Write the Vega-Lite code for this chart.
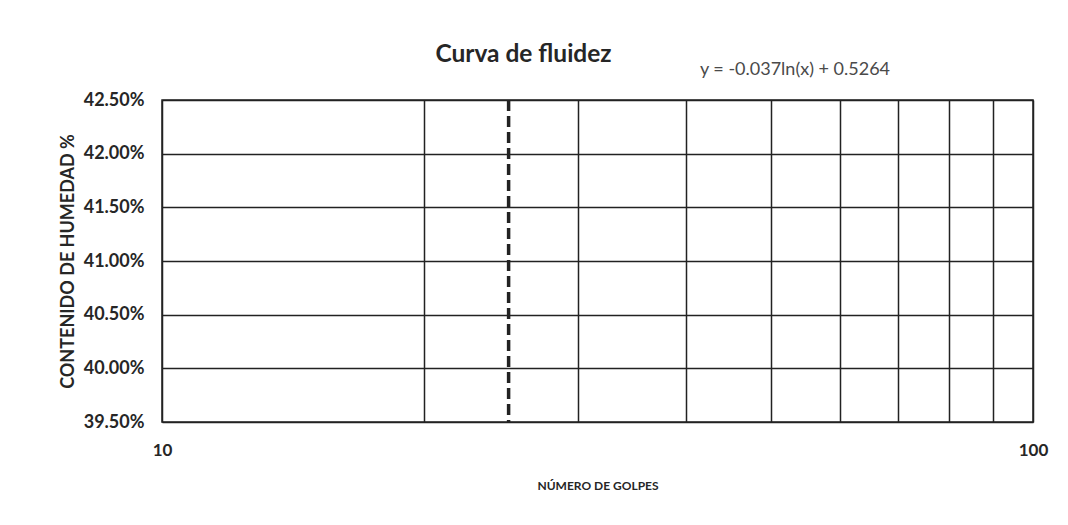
{
  "$schema": "https://vega.github.io/schema/vega-lite/v6.json",
  "width": 871,
  "height": 322,
  "autosize": {"type": "none"},
  "padding": {"left": 162, "top": 100, "right": 35, "bottom": 103},
  "background": "white",
  "config": {
    "font": "Lato",
    "view": {"stroke": "#222", "strokeWidth": 1.5}
  },
  "title": {
    "text": "Curva de fluidez",
    "font": "Lato",
    "fontSize": 24.5,
    "fontWeight": "bold",
    "color": "#262626",
    "anchor": "middle",
    "frame": "group",
    "dx": -74,
    "offset": -7
  },
  "datasets": {
    "limite": [{"golpes": 25}],
    "ecuacion": [{"texto": "y = -0.037ln(x) + 0.5264"}]
  },
  "layer": [
    {
      "data": {"name": "limite"},
      "mark": {"type": "rule", "color": "#222", "strokeWidth": 3.5, "strokeDash": [11, 5]},
      "encoding": {
        "x": {
          "field": "golpes",
          "type": "quantitative",
          "scale": {"type": "log", "domain": [10, 100], "nice": false},
          "axis": {
            "title": "NÚMERO DE GOLPES",
            "titleFont": "Lato",
            "titleFontSize": 12,
            "titleFontWeight": "bold",
            "titleColor": "#262626",
            "titlePadding": 22,
            "values": [10, 20, 30, 40, 50, 60, 70, 80, 90, 100],
            "labelExpr": "datum.value == 10 || datum.value == 100 ? datum.label : ''",
            "format": "d",
            "labelFont": "Lato",
            "labelFontSize": 17,
            "labelFontWeight": "bold",
            "labelColor": "#262626",
            "labelPadding": 20,
            "labelFlush": false,
            "ticks": false,
            "domain": false,
            "grid": true,
            "gridColor": "#222",
            "gridWidth": 1.5,
            "gridOpacity": 1
          }
        }
      }
    },
    {
      "data": {"name": "ecuacion"},
      "mark": {"type": "text", "font": "Lato", "fontSize": 18, "color": "#4a4a4a", "align": "center", "baseline": "middle"},
      "encoding": {
        "x": {"datum": 53.3, "type": "quantitative"},
        "y": {
          "datum": 0.4278,
          "type": "quantitative",
          "scale": {"domain": [0.395, 0.425], "nice": false, "zero": false},
          "axis": {
            "title": "CONTENIDO DE HUMEDAD %",
            "titleFont": "Lato",
            "titleFontSize": 18,
            "titleFontWeight": "bold",
            "titleColor": "#262626",
            "titlePadding": 6,
            "values": [0.395, 0.4, 0.405, 0.41, 0.415, 0.42, 0.425],
            "format": ".2%",
            "labelFont": "Lato",
            "labelFontSize": 18,
            "labelFontWeight": "bold",
            "labelColor": "#262626",
            "labelPadding": 18,
            "labelFlush": false,
            "ticks": false,
            "domain": false,
            "grid": true,
            "gridColor": "#222",
            "gridWidth": 1.5,
            "gridOpacity": 1
          }
        },
        "text": {"field": "texto"}
      }
    }
  ]
}
